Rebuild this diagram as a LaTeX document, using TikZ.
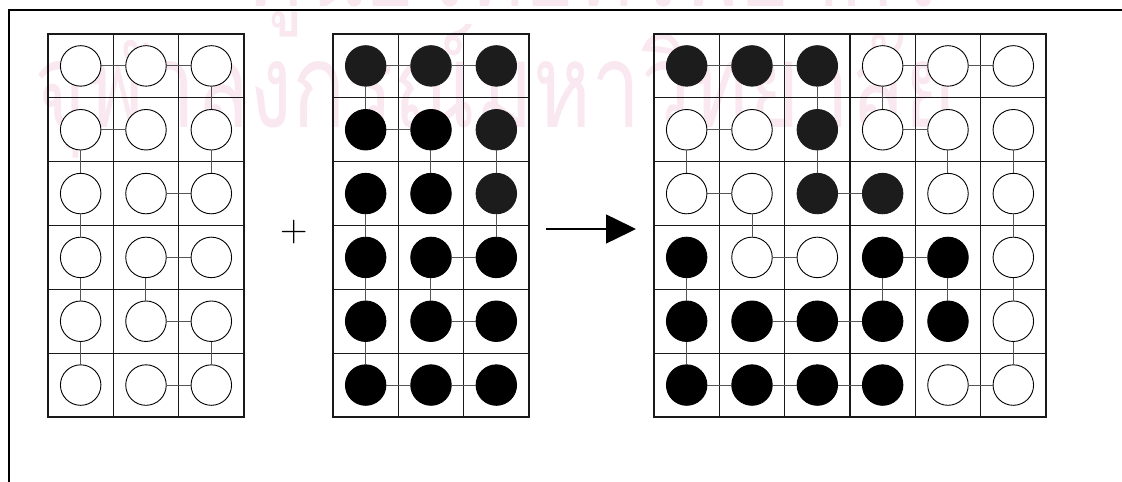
\documentclass[tikz,border=0pt]{standalone}
\usepackage{fontspec}
\newfontfamily\thaifont[Script=Thai]{Loma}
\usetikzlibrary{arrows.meta}
\definecolor{wmpink}{RGB}{250,232,240}
\definecolor{dk}{RGB}{28,28,28}
\definecolor{conn}{RGB}{85,85,85}
\begin{document}
\begin{tikzpicture}[x=1pt,y=-1pt,
  wb/.style={circle,draw=black,line width=0.9pt,fill=white,minimum size=40.5pt,inner sep=0pt},
  bb/.style={circle,draw=black,line width=0.9pt,fill=black,minimum size=40.5pt,inner sep=0pt},
  db/.style={circle,draw=dk,line width=0.9pt,fill=dk,minimum size=40.5pt,inner sep=0pt},
  cellline/.style={draw=black!90,line width=1.3pt},
  link/.style={draw=conn,line width=1pt},
  frameline/.style={draw=black,line width=2pt},
  wmtext/.style={text=wmpink,inner sep=0pt,font=\thaifont\fontsize{105}{110}\selectfont}]
\useasboundingbox (0,0) rectangle (1122,482);
% watermark
\node[wmtext,anchor=base] (wmA) at (595,6) {\scalebox{0.84}[1.12]{ศูนย์วิทยทรัพยากร}};
\node[wmtext,anchor=base] (wmB) at (495,127) {\scalebox{0.84}[1.12]{จุฬาลงกรณ์มหาวิทยาลัย}};
% frame
\coordinate (fTL) at (9,10);
\coordinate (fTR) at (1122,10);
\coordinate (fBL) at (9,482);
\draw[frameline] (fTR) -- (fTL) -- (fBL);
% grids
\foreach \gx/\nc in {48/3,333/3,654/6}{
  \foreach \r in {0,...,5}{
    \foreach \c in {1,...,\nc}{
      \draw[cellline] ({\gx+65.33*(\c-1)},{34+63.83*\r}) rectangle +(65.33,63.83);
    }
  }
}
% circles grid A
\foreach \r in {1,...,6}{
  \foreach \c in {1,...,3}{
    \node[wb] (A-\r-\c) at ({48+65.33*(\c-0.5)},{34+63.83*(\r-0.5)}) {};
  }
}
% circles grid B
\foreach \r/\c/\s in {1/1/db,1/2/db,1/3/db,2/1/bb,2/2/bb,2/3/db,3/1/bb,3/2/bb,3/3/db,
  4/1/bb,4/2/bb,4/3/bb,5/1/bb,5/2/bb,5/3/bb,6/1/bb,6/2/bb,6/3/bb}{
  \node[\s] (B-\r-\c) at ({333+65.33*(\c-0.5)},{34+63.83*(\r-0.5)}) {};
}
% circles grid C
\foreach \r/\c/\s in {1/1/db,1/2/db,1/3/db,1/4/wb,1/5/wb,1/6/wb,
  2/1/wb,2/2/wb,2/3/db,2/4/wb,2/5/wb,2/6/wb,
  3/1/wb,3/2/wb,3/3/db,3/4/db,3/5/wb,3/6/wb,
  4/1/bb,4/2/wb,4/3/wb,4/4/bb,4/5/bb,4/6/wb,
  5/1/bb,5/2/bb,5/3/bb,5/4/bb,5/5/bb,5/6/wb,
  6/1/bb,6/2/bb,6/3/bb,6/4/bb,6/5/wb,6/6/wb}{
  \node[\s] (C-\r-\c) at ({654+65.33*(\c-0.5)},{34+63.83*(\r-0.5)}) {};
}
% connectors
\foreach \a/\b in {1-1/1-2,1-2/1-3,2-1/2-2,3-2/3-3,4-2/4-3,5-2/5-3,6-2/6-3,
  1-3/2-3,2-1/3-1,2-3/3-3,3-1/4-1,4-1/5-1,4-2/5-2,5-1/6-1,5-3/6-3}{
  \draw[link] (A-\a) -- (A-\b);
}
\foreach \a/\b in {1-1/1-2,1-2/1-3,2-1/2-2,4-2/4-3,5-2/5-3,6-1/6-2,6-2/6-3,
  1-1/2-1,2-2/3-2,2-3/3-3,3-1/4-1,3-3/4-3,4-1/5-1,4-2/5-2,5-1/6-1}{
  \draw[link] (B-\a) -- (B-\b);
}
\foreach \a/\b in {1-1/1-2,1-2/1-3,1-4/1-5,1-5/1-6,2-1/2-2,2-4/2-5,3-1/3-2,3-3/3-4,
  4-2/4-3,4-4/4-5,5-2/5-3,5-3/5-4,6-1/6-2,6-2/6-3,6-3/6-4,6-5/6-6,
  1-3/2-3,1-4/2-4,2-1/3-1,2-3/3-3,2-5/3-5,2-6/3-6,3-2/4-2,3-6/4-6,
  4-1/5-1,4-4/5-4,4-5/5-5,4-6/5-6,5-1/6-1,5-6/6-6}{
  \draw[link] (C-\a) -- (C-\b);
}
% plus and arrow
\node[inner sep=0pt,font=\fontsize{38}{40}\selectfont] (plus) at (294.3,232.3) {+};
\coordinate (arrS) at (546,229);
\coordinate (arrE) at (636,229);
\draw[line width=1.5pt,-{Triangle[length=30pt,width=29pt]}] (arrS) -- (arrE);
\end{tikzpicture}
\end{document}
